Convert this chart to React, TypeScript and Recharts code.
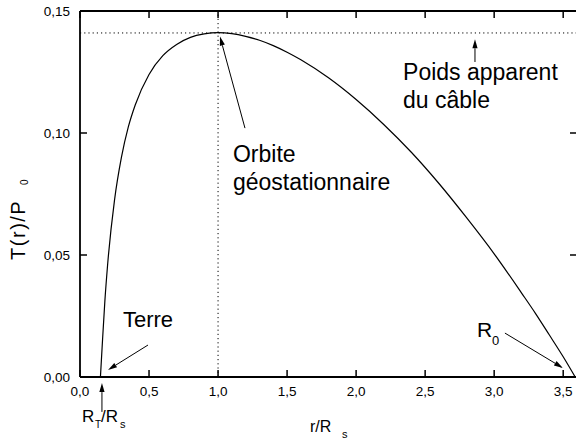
import React from 'react';
import { LineChart, Line, XAxis, YAxis, ReferenceLine, ReferenceDot } from 'recharts';

// r / R_s
const rValues = [0.148, 0.16, 0.18, 0.2, 0.25, 0.3, 0.35, 0.4, 0.5, 0.6, 0.7, 0.8, 0.9, 1.0, 1.1, 1.2, 1.3, 1.4, 1.5, 1.6, 1.8, 2.0, 2.2, 2.4, 2.6, 2.8, 3.0, 3.2, 3.3, 3.4, 3.5, 3.587];
// T(r) / P0
const tensionValues = [0, 0.012, 0.031, 0.046, 0.0725, 0.09, 0.1025, 0.1115, 0.124, 0.1317, 0.1363, 0.1392, 0.1406, 0.1411, 0.1407, 0.1396, 0.138, 0.1358, 0.1331, 0.13, 0.1226, 0.1137, 0.1035, 0.0921, 0.0793, 0.0653, 0.0505, 0.0343, 0.026, 0.0172, 0.0083, 0];

const xTicks = [0, 0.5, 1, 1.5, 2, 2.5, 3, 3.5];
const yTicks = [0, 0.05, 0.1, 0.15];
const xDomain = [0, 3.6];
const yDomain = [0, 0.15];
const peakTension = 0.141;
const geoRadius = 1.0;

const data = rValues.map((r, i) => ({ r, t: tensionValues[i] }));

const FONT = '"Liberation Sans", Arial, Helvetica, sans-serif';
const fmt = (v: number, d: number) => v.toFixed(d).replace('.', ',');

const BottomTick = (p: any) => (
  <g>
    <line x1={p.x} y1={p.y} x2={p.x} y2={p.y - 7} stroke="#000" strokeWidth={1.5} />
    <text x={p.x} y={p.y + 19} textAnchor="middle" fontSize={13.5} fontFamily={FONT} fill="#000">
      {fmt(p.payload.value, 1)}
    </text>
  </g>
);
const TopTick = (p: any) => (
  <line x1={p.x} y1={p.y} x2={p.x} y2={p.y + 7} stroke="#000" strokeWidth={1.5} />
);
const LeftTick = (p: any) => (
  <g>
    <line x1={p.x} y1={p.y} x2={p.x + 7} y2={p.y} stroke="#000" strokeWidth={1.5} />
    <text x={p.x - 10} y={p.y + 4.5} textAnchor="end" fontSize={13.5} fontFamily={FONT} fill="#000">
      {fmt(p.payload.value, 2)}
    </text>
  </g>
);
const RightTick = (p: any) => (
  <line x1={p.x} y1={p.y} x2={p.x - 7} y2={p.y} stroke="#000" strokeWidth={1.5} />
);

const Arrow = (p: any) => {
  const { x1, y1, x2, y2 } = p;
  const ang = Math.atan2(y2 - y1, x2 - x1);
  const L = 9;
  const W = 2.6;
  const bx = x2 - L * Math.cos(ang);
  const by = y2 - L * Math.sin(ang);
  const px = -Math.sin(ang) * W;
  const py = Math.cos(ang) * W;
  return (
    <g>
      <line x1={x1} y1={y1} x2={bx} y2={by} stroke="#000" strokeWidth={1} />
      <polygon points={`${x2},${y2} ${bx + px},${by + py} ${bx - px},${by - py}`} fill="#000" />
    </g>
  );
};

const textStyle = { fontFamily: FONT, fill: '#000' } as any;

const twoLines = (a: string, b: string, size: number) => (p: any) => (
  <text x={p.cx} y={p.cy} fontSize={size} style={textStyle}>
    <tspan x={p.cx} y={p.cy}>{a}</tspan>
    <tspan x={p.cx} y={p.cy + 28}>{b}</tspan>
  </text>
);
const oneLine = (a: string, size: number) => (p: any) => (
  <text x={p.cx} y={p.cy} fontSize={size} style={textStyle}>{a}</text>
);

const R0Label = (p: any) => (
  <g style={textStyle}>
    <text x={p.cx} y={p.cy} fontSize={21} style={textStyle}>R</text>
    <text x={p.cx + 15} y={p.cy + 8} fontSize={13} style={textStyle}>0</text>
  </g>
);
const RtLabel = (p: any) => (
  <g>
    <text x={p.cx} y={p.cy} fontSize={17} style={textStyle}>R</text>
    <text x={p.cx + 13} y={p.cy + 6} fontSize={10} style={textStyle}>T</text>
    <text x={p.cx + 19} y={p.cy} fontSize={17} style={textStyle}>/R</text>
    <text x={p.cx + 38} y={p.cy + 6} fontSize={11} style={textStyle}>s</text>
  </g>
);
const XLabel = (p: any) => (
  <g>
    <text x={p.cx} y={p.cy} fontSize={16} style={textStyle}>r/R</text>
    <text x={p.cx + 32} y={p.cy + 6} fontSize={11} style={textStyle}>s</text>
  </g>
);
const YLabel = (p: any) => (
  <g transform={`rotate(-90 ${p.cx} ${p.cy})`}>
    <text x={p.cx} y={p.cy} fontSize={20} letterSpacing={1.5} style={textStyle}>T(r)/P</text>
    <text x={p.cx + 75} y={p.cy + 3} fontSize={10} style={textStyle}>0</text>
  </g>
);

export default function App() {
  return (
    <div style={{ position: 'fixed', left: 0, top: 0, width: 576, height: 441, overflow: 'hidden', background: '#fff' }}>
      <LineChart width={580} height={441} data={data} margin={{ top: 0, right: 0, bottom: 0, left: 0 }}>
        <XAxis
          dataKey="r"
          type="number"
          domain={xDomain}
          ticks={xTicks}
          interval={0}
          allowDataOverflow
          height={64}
          tickSize={0}
          tickMargin={0}
          tickLine={false}
          tick={(p: any) => <BottomTick {...p} />}
          axisLine={{ stroke: '#000', strokeWidth: 1.8 }}
        />
        <XAxis
          xAxisId="top"
          orientation="top"
          dataKey="r"
          type="number"
          domain={xDomain}
          ticks={xTicks}
          interval={0}
          allowDataOverflow
          height={11}
          tickSize={0}
          tickMargin={0}
          tickLine={false}
          tick={(p: any) => <TopTick {...p} />}
          axisLine={{ stroke: '#000', strokeWidth: 1.8 }}
        />
        <YAxis
          type="number"
          domain={yDomain}
          ticks={yTicks}
          interval={0}
          allowDataOverflow
          width={80}
          tickSize={0}
          tickMargin={0}
          tickLine={false}
          tick={(p: any) => <LeftTick {...p} />}
          axisLine={{ stroke: '#000', strokeWidth: 1.8 }}
        />
        <YAxis
          yAxisId="right"
          orientation="right"
          type="number"
          domain={yDomain}
          ticks={yTicks}
          interval={0}
          allowDataOverflow
          width={3}
          tickSize={0}
          tickMargin={0}
          tickLine={false}
          tick={(p: any) => <RightTick {...p} />}
          axisLine={{ stroke: '#000', strokeWidth: 1.8 }}
        />
        <ReferenceLine y={peakTension} stroke="#000" strokeWidth={1} strokeDasharray="1.2 3" />
        <ReferenceLine x={geoRadius} stroke="#000" strokeWidth={1} strokeDasharray="1.2 3" />
        <Line type="monotone" dataKey="t" stroke="#000" strokeWidth={1.2} dot={false} isAnimationActive={false} />

        {/* annotations */}
        <ReferenceDot x={2.34} y={0.1217} ifOverflow="visible" shape={twoLines('Poids apparent', 'du câble', 23)} />
        <ReferenceLine segment={[{ x: 2.861, y: 0.1291 }, { x: 2.861, y: 0.1384 }]} ifOverflow="visible" shape={Arrow} />
        <ReferenceDot x={1.108} y={0.0881} ifOverflow="visible" shape={twoLines('Orbite', 'géostationnaire', 23)} />
        <ReferenceLine segment={[{ x: 1.195, y: 0.102 }, { x: 1.014, y: 0.1395 }]} ifOverflow="visible" shape={Arrow} />
        <ReferenceDot x={0.311} y={0.0205} ifOverflow="visible" shape={oneLine('Terre', 22)} />
        <ReferenceLine segment={[{ x: 0.4925, y: 0.0131 }, { x: 0.203, y: 0.0029 }]} ifOverflow="visible" shape={Arrow} />
        <ReferenceDot x={2.875} y={0.0164} ifOverflow="visible" shape={R0Label} />
        <ReferenceLine segment={[{ x: 3.078, y: 0.018 }, { x: 3.498, y: 0.0037 }]} ifOverflow="visible" shape={Arrow} />
        <ReferenceDot x={0.0145} y={-0.0184} ifOverflow="visible" shape={RtLabel} />
        <ReferenceLine segment={[{ x: 0.159, y: -0.0143 }, { x: 0.159, y: -0.0025 }]} ifOverflow="visible" shape={Arrow} />
        <ReferenceDot x={1.666} y={-0.0225} ifOverflow="visible" shape={XLabel} />
        <ReferenceDot x={-0.398} y={0.048} ifOverflow="visible" shape={YLabel} />
      </LineChart>
    </div>
  );
}
